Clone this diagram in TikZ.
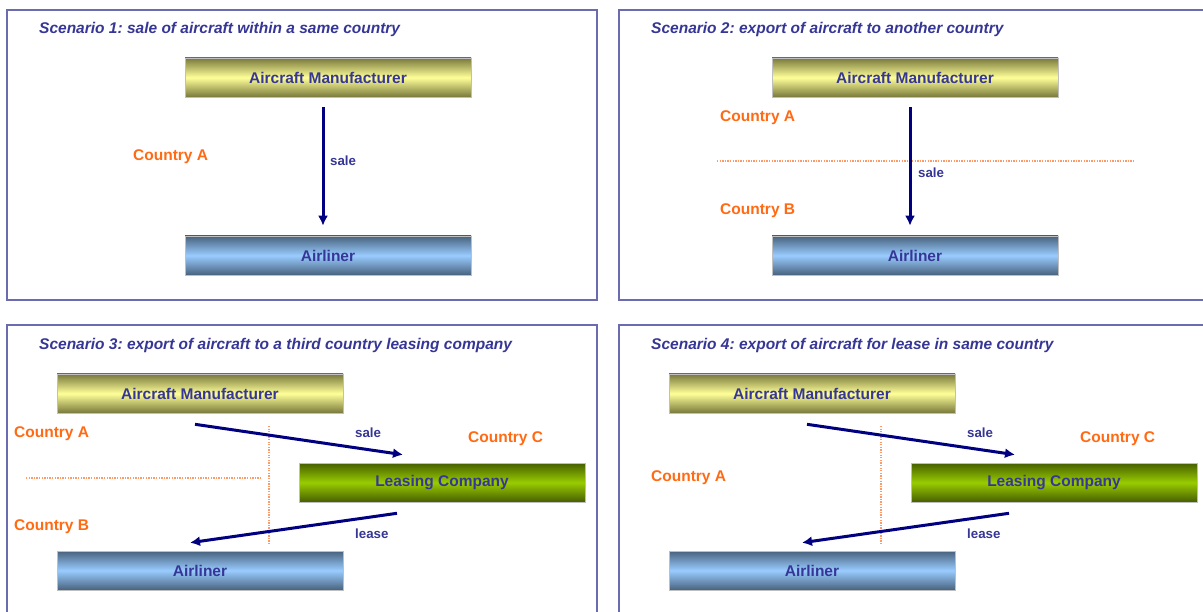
\documentclass[tikz,border=0pt]{standalone}
\usepackage{fontspec}
\setmainfont{Liberation Sans}
\usetikzlibrary{calc,arrows.meta}

\definecolor{frame}{HTML}{6B6BB0}
\definecolor{ink}{HTML}{363696}
\definecolor{navy}{HTML}{000080}
\definecolor{country}{HTML}{FF6A13}
\definecolor{limit}{HTML}{FF9A66}
\definecolor{yellowedge}{HTML}{78783C}
\definecolor{yellowmid}{HTML}{FFFF99}
\definecolor{blueedge}{HTML}{48627E}
\definecolor{bluemid}{HTML}{99CCFF}
\definecolor{greenedge}{HTML}{465E00}
\definecolor{greenmid}{HTML}{99CC00}

\begin{document}
\frenchspacing
\begin{tikzpicture}[x=1pt,y=-1pt,
		panel/.style={draw=frame,line width=1.8pt},
		title/.style={anchor=west,inner sep=0pt,yshift=-2pt,text=ink,font=\bfseries\itshape\fontsize{15.5}{18}\selectfont},
		box/.style={draw=black!25,line width=0.6pt,minimum width=286pt,minimum height=39pt,inner sep=0pt,
			text=ink,font=\bfseries\fontsize{15.5}{18}\selectfont},
		maker/.style={box,top color=yellowedge,bottom color=yellowedge,middle color=yellowmid},
		airline/.style={box,top color=blueedge,bottom color=blueedge,middle color=bluemid},
		lessor/.style={box,top color=greenedge,bottom color=greenedge,middle color=greenmid},
		land/.style={anchor=west,inner sep=0pt,yshift=-2pt,text=country,font=\bfseries\fontsize{15.5}{18}\selectfont},
		lbl/.style={anchor=west,inner sep=0pt,yshift=-1.5pt,text=ink,font=\bfseries\fontsize{13.3}{16}\selectfont},
		flow/.style={draw=navy,line width=3pt,-{Latex[length=10pt,width=10pt]}},
		border/.style={draw=limit,line width=1.2pt,dash pattern=on 1.3pt off 1.3pt}]
	\clip (0,0) rectangle (1203,612);
	\fill[white] (0,0) rectangle (1203,612);

	% frames
	\draw[panel] (7,10) rectangle (597,300);
	\draw[panel] (619,10) rectangle (1220,300);
	\draw[panel] (7,325) rectangle (597,630);
	\draw[panel] (619,325) rectangle (1220,630);

	% scenario 1
	\node[title] (t1) at (39,27) {Scenario 1: sale of aircraft within a same country};
	\node[maker] (m1) at (328,77.5) {Aircraft Manufacturer};
	\node[airline] (a1) at (328,255.5) {Airliner};
	\node[land] (c1a) at (133,155) {Country A};
	\draw[flow] ($(m1.south)+(-5,10)$) -- ($(a1.north)+(-5,-10)$);
	\node[lbl] (s1) at (330,159) {sale};

	% scenario 2
	\node[title] (t2) at (651,27) {Scenario 2: export of aircraft to another country};
	\node[maker] (m2) at (915,77.5) {Aircraft Manufacturer};
	\node[airline] (a2) at (915,255.5) {Airliner};
	\node[land] (c2a) at (720,116) {Country A};
	\node[land] (c2b) at (720,209) {Country B};
	\draw[border] (717,161) -- (1135,161);
	\draw[flow] ($(m2.south)+(-5,10)$) -- ($(a2.north)+(-5,-10)$);
	\node[lbl] (s2) at (918,171) {sale};

	% scenario 3
	\node[title] (t3) at (39,343) {Scenario 3: export of aircraft to a third country leasing company};
	\node[maker] (m3) at (200,393.5) {Aircraft Manufacturer};
	\node[lessor] (l3) at (442,482.5) {Leasing Company};
	\node[airline] (a3) at (200,570.5) {Airliner};
	\node[land] (c3a) at (14,432) {Country A};
	\node[land] (c3b) at (14,525) {Country B};
	\node[land] (c3c) at (468,437) {Country C};
	\draw[border] (26,478) -- (262,478);
	\draw[border] (269,426) -- (269,545);
	\draw[flow] ($(m3.south)+(-5,11)$) -- ($(l3.north)+(-39,-8)$);
	\draw[flow] ($(l3.south)+(-45,11)$) -- ($(a3.north)+(-10,-8)$);
	\node[lbl] (s3) at (355,431) {sale};
	\node[lbl] (r3) at (355,532) {lease};

	% scenario 4
	\node[title] (t4) at (651,343) {Scenario 4: export of aircraft for lease in same country};
	\node[maker] (m4) at (812,393.5) {Aircraft Manufacturer};
	\node[lessor] (l4) at (1054,482.5) {Leasing Company};
	\node[airline] (a4) at (812,570.5) {Airliner};
	\node[land] (c4a) at (651,476) {Country A};
	\node[land] (c4c) at (1080,437) {Country C};
	\draw[border] (881,426) -- (881,545);
	\draw[flow] ($(m4.south)+(-5,11)$) -- ($(l4.north)+(-39,-8)$);
	\draw[flow] ($(l4.south)+(-45,11)$) -- ($(a4.north)+(-10,-8)$);
	\node[lbl] (s4) at (967,431) {sale};
	\node[lbl] (r4) at (967,532) {lease};
\end{tikzpicture}
\end{document}
